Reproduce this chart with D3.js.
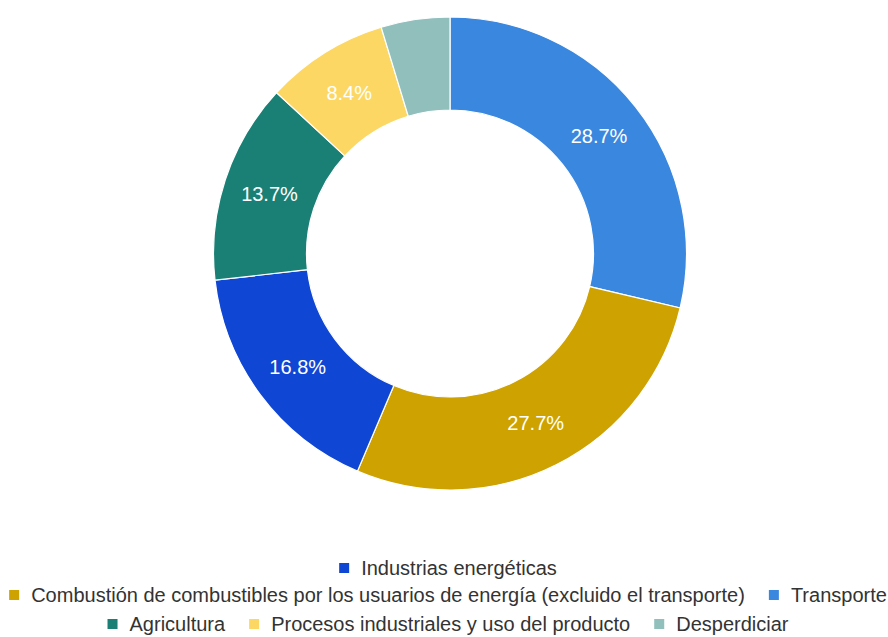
<!DOCTYPE html>
<html>
<head>
<meta charset="utf-8">
<script src="https://cdn.jsdelivr.net/npm/d3@7"></script>
<style>
  html, body { margin: 0; padding: 0; background: #fff; }
  svg { display: block; font-family: "Liberation Sans", Arial, sans-serif; }
</style>
</head>
<body>
<svg id="chart" width="888" height="637"></svg>
<script>
// Slice order (clockwise from 12 o'clock)
const categories = [
  "Transporte",
  "Combustión de combustibles por los usuarios de energía (excluido el transporte)",
  "Industrias energéticas",
  "Agricultura",
  "Procesos industriales y uso del producto",
  "Desperdiciar"
];
const values = [28.7, 27.7, 16.8, 13.7, 8.4, 4.7];
const colors = ["#3a87e0", "#cea200", "#0f46d3", "#1a8075", "#fdd764", "#90bfbc"];

// Legend rows
const legendRows = [
  ["Industrias energéticas"],
  ["Combustión de combustibles por los usuarios de energía (excluido el transporte)", "Transporte"],
  ["Agricultura", "Procesos industriales y uso del producto", "Desperdiciar"]
];

const svg = d3.select("#chart");
const cx = 450, cy = 253.5, rOuter = 236.5, rInner = 143.5;

const data = categories.map((c, i) => ({ name: c, value: values[i], color: colors[i] }));
const colorOf = new Map(data.map(d => [d.name, d.color]));

const pie = d3.pie().value(d => d.value).sort(null);
const arc = d3.arc().innerRadius(rInner).outerRadius(rOuter);
const arcs = pie(data);

const g = svg.append("g").attr("transform", `translate(${cx},${cy})`);

g.selectAll("path.slice")
  .data(arcs)
  .join("path")
  .attr("class", "slice")
  .attr("d", arc)
  .attr("fill", d => d.data.color)
  .attr("stroke", "#ffffff")
  .attr("stroke-width", 1.2);

const total = d3.sum(values);
g.selectAll("text.pct")
  .data(arcs.filter(d => d.data.value / total >= 0.05))
  .join("text")
  .attr("class", "pct")
  .attr("transform", d => `translate(${arc.centroid(d)})`)
  .attr("text-anchor", "middle")
  .attr("dy", "0.36em")
  .attr("fill", "#ffffff")
  .attr("font-size", 20)
  .text(d => d.data.value.toFixed(1) + "%");

// Legend
const legendY = [568, 595, 624];
const legendCenter = 448;
const fontSize = 20;
const sq = 10, gapSq = 12, gapItem = 24;
const legend = svg.append("g");

legendRows.forEach((row, ri) => {
  const rowG = legend.append("g");
  let x = 0;
  row.forEach((name, k) => {
    const item = rowG.append("g").attr("transform", `translate(${x},0)`);
    item.append("rect")
      .attr("x", 0).attr("y", -sq / 2)
      .attr("width", sq).attr("height", sq)
      .attr("fill", colorOf.get(name));
    const t = item.append("text")
      .attr("x", sq + gapSq)
      .attr("dy", "0.36em")
      .attr("font-size", fontSize)
      .attr("fill", "#333")
      .text(name);
    const w = t.node().getComputedTextLength();
    x += sq + gapSq + w + (k < row.length - 1 ? gapItem : 0);
  });
  rowG.attr("transform", `translate(${legendCenter - x / 2},${legendY[ri]})`);
});
</script>
</body>
</html>
